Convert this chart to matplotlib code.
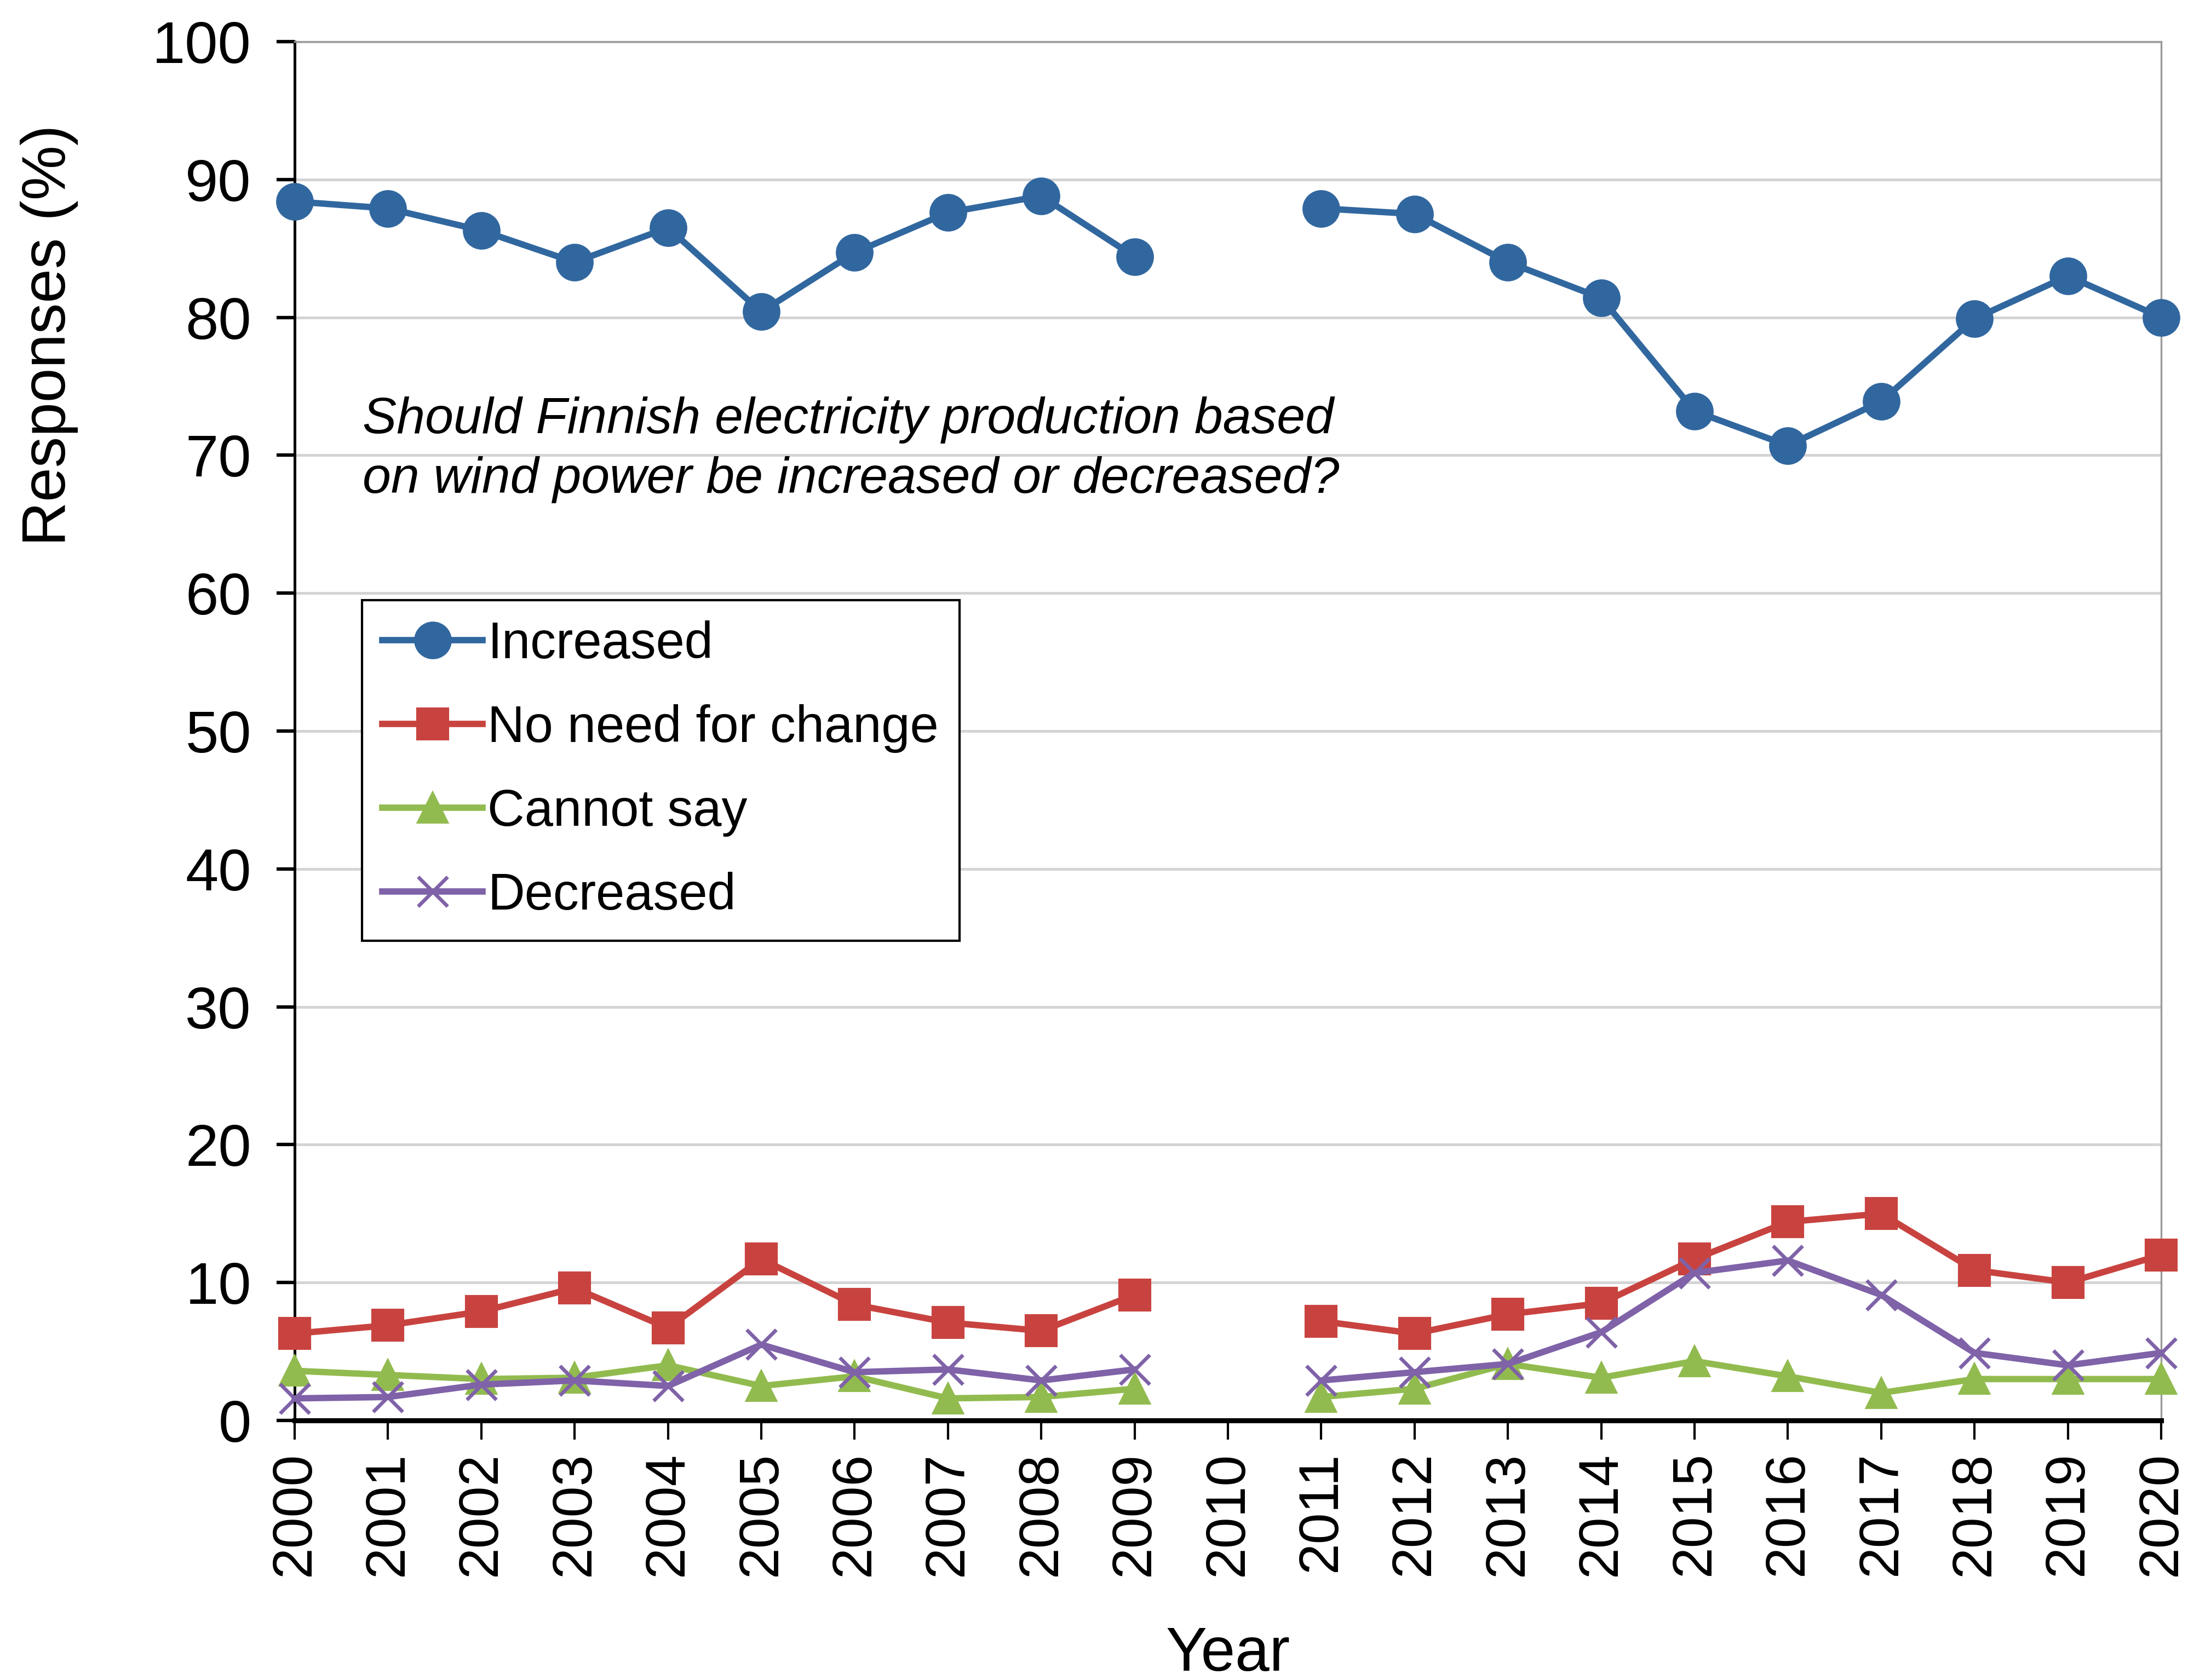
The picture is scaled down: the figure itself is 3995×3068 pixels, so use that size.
import numpy as np
import matplotlib
matplotlib.use('Agg')
import matplotlib.pyplot as plt

plt.rcParams['font.family'] = ['Liberation Sans', 'DejaVu Sans']

years = np.arange(2000, 2021)
# 2010 survey missing -> nan gap
increased = [88.4, 87.9, 86.3, 84.0, 86.5, 80.4, 84.7, 87.6, 88.8, 84.4, np.nan,
             87.9, 87.5, 84.0, 81.4, 73.2, 70.7, 73.9, 79.9, 83.0, 80.0]
no_change = [6.3, 6.9, 7.9, 9.6, 6.7, 11.7, 8.4, 7.1, 6.5, 9.1, np.nan,
             7.2, 6.3, 7.7, 8.5, 11.7, 14.4, 15.0, 10.9, 10.0, 12.0]
cannot_say = [3.6, 3.3, 3.0, 3.1, 4.0, 2.5, 3.2, 1.6, 1.7, 2.3, np.nan,
              1.7, 2.3, 4.1, 3.1, 4.3, 3.2, 2.0, 3.0, 3.0, 3.0]
decreased = [1.6, 1.7, 2.6, 2.9, 2.5, 5.5, 3.5, 3.7, 2.9, 3.7, np.nan,
             2.9, 3.5, 4.1, 6.4, 10.7, 11.6, 9.1, 4.9, 4.0, 4.9]

fig = plt.figure(figsize=(13.317, 10.227), dpi=300)
ax = fig.add_axes([538/3995, 1 - 2594/3068, (3946-538)/3995, (2594-76)/3068])

lw = 2.8
ax.plot(years, increased, color='#31679f', marker='o', ms=15.5, lw=lw, label='Increased', clip_on=False, zorder=5)
ax.plot(years, no_change, color='#c8433f', marker='s', ms=13.5, lw=lw, label='No need for change', clip_on=False, zorder=4)
ax.plot(years, cannot_say, color='#92bb4f', marker='^', ms=13, lw=lw, label='Cannot say', clip_on=False, zorder=3)
ax.plot(years, decreased, color='#7f62a8', marker='x', ms=13, mew=1.6, lw=lw, label='Decreased', clip_on=False, zorder=4)

ax.set_xlim(2000, 2020)
ax.set_ylim(0, 100)
ax.set_xticks(years)
ax.set_xticklabels([str(y) for y in years], rotation=90, fontsize=24.5)
ax.set_yticks(np.arange(0, 101, 10))
ax.tick_params(axis='y', labelsize=26, length=8, width=1.5, direction='out', pad=11)
ax.tick_params(axis='x', length=8.5, width=1.0, direction='out', pad=5)

ax.yaxis.grid(True, color='#d4d4d4', lw=1.2)
ax.set_axisbelow(True)
ax.spines['top'].set_color('#9a9a9a')
ax.spines['right'].set_color('#9a9a9a')
ax.spines['left'].set_linewidth(1.2)
ax.spines['bottom'].set_linewidth(2.2)

ax.set_ylabel('Responses (%)', fontsize=27)
ax.yaxis.set_label_coords(-0.116, 0.787)
ax.set_xlabel('Year', fontsize=27, labelpad=22)

ax.text(2000.73, 70.4, 'Should Finnish electricity production based\non wind power be increased or decreased?',
        fontsize=22.4, style='italic', va='center', ha='left', linespacing=1.35)

leg = ax.legend(loc='upper left', bbox_to_anchor=(0.036, 0.595), fontsize=22.5,
                frameon=True, fancybox=False, edgecolor='black', framealpha=1,
                handlelength=1.95, handletextpad=0.1, labelspacing=0.68,
                borderpad=0.4, borderaxespad=0)
leg.get_frame().set_linewidth(1.0)

fig.savefig('out.png', dpi=300)
